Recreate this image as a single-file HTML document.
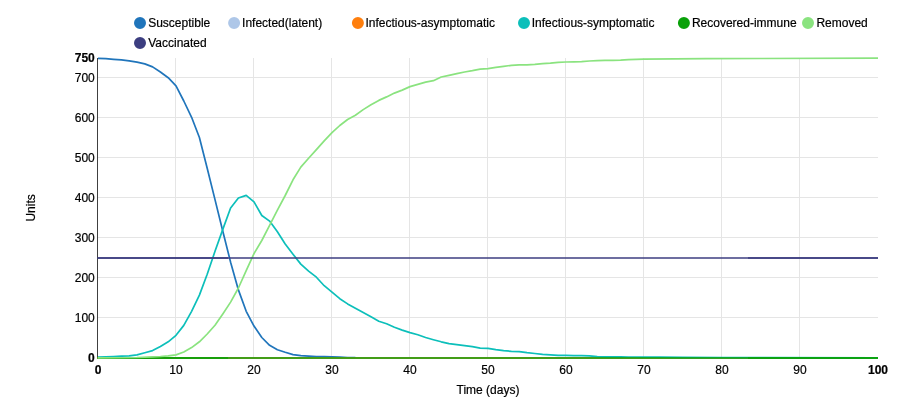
<!DOCTYPE html>
<html><head><meta charset="utf-8"><title>Chart</title>
<style>html,body{margin:0;padding:0;background:#fff;overflow:hidden}svg{display:block}</style></head>
<body>
<svg width="919" height="412" viewBox="0 0 919 412">
<rect width="919" height="412" fill="#fff"/>
<g stroke="#e5e5e5" stroke-width="1" shape-rendering="crispEdges">
<line x1="175.5" y1="57.5" x2="175.5" y2="357.5"/>
<line x1="253.5" y1="57.5" x2="253.5" y2="357.5"/>
<line x1="331.5" y1="57.5" x2="331.5" y2="357.5"/>
<line x1="409.5" y1="57.5" x2="409.5" y2="357.5"/>
<line x1="487.5" y1="57.5" x2="487.5" y2="357.5"/>
<line x1="565.5" y1="57.5" x2="565.5" y2="357.5"/>
<line x1="643.5" y1="57.5" x2="643.5" y2="357.5"/>
<line x1="721.5" y1="57.5" x2="721.5" y2="357.5"/>
<line x1="799.5" y1="57.5" x2="799.5" y2="357.5"/>
<line x1="98" y1="77.5" x2="878" y2="77.5"/>
<line x1="98" y1="117.5" x2="878" y2="117.5"/>
<line x1="98" y1="157.5" x2="878" y2="157.5"/>
<line x1="98" y1="197.5" x2="878" y2="197.5"/>
<line x1="98" y1="237.5" x2="878" y2="237.5"/>
<line x1="98" y1="277.5" x2="878" y2="277.5"/>
<line x1="98" y1="317.5" x2="878" y2="317.5"/>
</g>
<line x1="97.5" y1="58" x2="97.5" y2="358" stroke="#000" stroke-opacity=".75" stroke-width="1" shape-rendering="crispEdges"/>
<g fill="none" stroke-width="1.5" stroke-linejoin="round">
<path d="M98.0,58.3 L105.8,58.7 L113.6,59.3 L121.4,59.9 L129.2,60.8 L137.0,62.2 L144.8,63.9 L152.6,66.9 L160.4,72.0 L168.2,77.7 L176.0,85.8 L183.8,101.0 L191.6,117.3 L199.4,137.5 L207.2,168.3 L215.0,199.6 L222.8,231.2 L230.6,262.2 L238.4,289.9 L246.2,311.3 L254.0,326.1 L261.8,337.5 L269.6,345.3 L277.4,349.7 L285.2,352.3 L293.0,354.6 L300.8,355.6 L308.6,356.1 L316.4,356.5 L324.2,356.7 L332.0,356.9 L339.8,357.2 L347.6,357.5 L355.4,357.7" stroke="#2075bb" stroke-width="1.7"/>
<path d="M97.5,358 L878,358" stroke="#aec7e8"/>
<path d="M97.5,358 L228,358 M748,358 L878,358" stroke="#aec7e8"/>
<path d="M97.5,358 L878,358" stroke="#ff7f0e"/>
<path d="M97.5,358 L228,358 M748,358 L878,358" stroke="#ff7f0e"/>
<path d="M98.0,357.2 L105.8,356.9 L113.6,356.5 L121.4,356.2 L129.2,355.8 L137.0,354.9 L144.8,352.7 L152.6,350.6 L160.4,346.5 L168.2,341.8 L176.0,335.3 L183.8,325.4 L191.6,311.3 L199.4,295.1 L207.2,274.3 L215.0,251.3 L222.8,229.4 L230.6,208.0 L238.4,198.0 L246.2,195.4 L254.0,201.8 L261.8,215.5 L269.6,221.1 L277.4,231.8 L285.2,244.0 L293.0,254.2 L300.8,264.1 L308.6,271.1 L316.4,277.2 L324.2,285.7 L332.0,292.1 L339.8,298.7 L347.6,303.9 L355.4,308.3 L363.2,312.5 L371.0,316.8 L378.8,321.2 L386.6,323.8 L394.4,327.3 L402.2,330.1 L410.0,332.6 L417.8,334.7 L425.6,337.5 L433.4,339.7 L441.2,341.8 L449.0,343.7 L456.8,344.6 L464.6,345.7 L472.4,346.7 L480.2,348.1 L488.0,348.3 L495.8,349.7 L503.6,350.7 L511.4,351.3 L519.2,351.6 L527.0,352.7 L534.8,353.5 L542.6,354.4 L550.4,354.8 L558.2,355.3 L566.0,355.4 L573.8,355.6 L581.6,355.7 L589.4,355.8 L597.2,356.6 L605.0,356.8 L612.8,356.9 L620.6,356.9 L628.4,357.0 L636.2,357.0 L644.0,357.1 L659.6,357.2 L683.0,357.3 L722.0,357.5 L761.0,357.7 L878.0,357.8" stroke="#0cbfba" stroke-width="1.7"/>
<path d="M97.5,358 L878,358" stroke="#0aa10a"/>
<path d="M97.5,358 L228,358 M748,358 L878,358" stroke="#0aa10a"/>
<path d="M98.0,357.8 L137.0,357.5 L152.6,356.9 L160.4,356.5 L168.2,355.9 L176.0,354.9 L183.8,352.0 L191.6,347.6 L199.4,341.8 L207.2,334.0 L215.0,325.2 L222.8,313.9 L230.6,302.1 L238.4,288.0 L246.2,270.7 L254.0,253.6 L261.8,240.5 L269.6,225.3 L277.4,210.1 L285.2,195.5 L293.0,179.8 L300.8,167.1 L308.6,158.3 L316.4,149.6 L324.2,140.9 L332.0,132.7 L339.8,125.5 L347.6,119.5 L355.4,115.3 L363.2,109.6 L371.0,104.8 L378.8,100.4 L386.6,96.9 L394.4,93.1 L402.2,90.1 L410.0,86.6 L417.8,84.4 L425.6,82.1 L433.4,80.7 L441.2,77.0 L449.0,75.3 L456.8,73.7 L464.6,72.0 L472.4,70.7 L480.2,69.2 L488.0,68.6 L495.8,67.4 L503.6,66.4 L511.4,65.3 L519.2,64.8 L527.0,64.8 L534.8,64.3 L542.6,63.6 L550.4,63.1 L558.2,62.4 L566.0,62.0 L573.8,61.8 L581.6,61.7 L589.4,61.0 L597.2,60.7 L605.0,60.4 L612.8,60.3 L620.6,60.1 L628.4,59.6 L636.2,59.4 L644.0,59.2 L675.2,58.9 L706.4,58.7 L761.0,58.5 L878.0,58.2" stroke="#8ae37f" stroke-width="1.7"/>
<path d="M97.5,258 L878,258" stroke="#3c3e80"/>
<path d="M97.5,258 L228,258 M748,258 L878,258" stroke="#3c3e80"/>
</g>
<g font-family="Liberation Sans, Arial, sans-serif" font-size="12" fill="#000" stroke="#000" stroke-width="0.2">
<circle cx="140" cy="23" r="5" fill="#2075bb" stroke="#2075bb" stroke-width="2"/>
<text x="148.2" y="27.2">Susceptible</text>
<circle cx="234.1" cy="23" r="5" fill="#aec7e8" stroke="#aec7e8" stroke-width="2"/>
<text x="242.1" y="27.2">Infected(latent)</text>
<circle cx="357.9" cy="23" r="5" fill="#ff7f0e" stroke="#ff7f0e" stroke-width="2"/>
<text x="365.5" y="27.2">Infectious-asymptomatic</text>
<circle cx="524" cy="23" r="5" fill="#0cbfba" stroke="#0cbfba" stroke-width="2"/>
<text x="531.7" y="27.2">Infectious-symptomatic</text>
<circle cx="683.9" cy="23" r="5" fill="#0aa10a" stroke="#0aa10a" stroke-width="2"/>
<text x="691.9" y="27.2">Recovered-immune</text>
<circle cx="808" cy="23" r="5" fill="#8ae37f" stroke="#8ae37f" stroke-width="2"/>
<text x="816.4" y="27.2">Removed</text>
<circle cx="140" cy="43" r="5" fill="#3c3e80" stroke="#3c3e80" stroke-width="2"/>
<text x="148.2" y="47.2">Vaccinated</text>
<text x="94.8" y="81.7" text-anchor="end">700</text>
<text x="94.8" y="121.7" text-anchor="end">600</text>
<text x="94.8" y="161.7" text-anchor="end">500</text>
<text x="94.8" y="201.7" text-anchor="end">400</text>
<text x="94.8" y="241.7" text-anchor="end">300</text>
<text x="94.8" y="281.7" text-anchor="end">200</text>
<text x="94.8" y="321.7" text-anchor="end">100</text>
<text x="94.8" y="61.7" text-anchor="end" font-weight="bold">750</text>
<text x="94.8" y="361.7" text-anchor="end" font-weight="bold">0</text>
<text x="176.0" y="374" text-anchor="middle">10</text>
<text x="254.0" y="374" text-anchor="middle">20</text>
<text x="332.0" y="374" text-anchor="middle">30</text>
<text x="410.0" y="374" text-anchor="middle">40</text>
<text x="488.0" y="374" text-anchor="middle">50</text>
<text x="566.0" y="374" text-anchor="middle">60</text>
<text x="644.0" y="374" text-anchor="middle">70</text>
<text x="722.0" y="374" text-anchor="middle">80</text>
<text x="800.0" y="374" text-anchor="middle">90</text>
<text x="98" y="374" text-anchor="middle" font-weight="bold">0</text>
<text x="878" y="374" text-anchor="middle" font-weight="bold">100</text>
<text x="488" y="394" text-anchor="middle">Time (days)</text>
<text transform="translate(35.3,207.9) rotate(-90)" text-anchor="middle">Units</text>
</g>
</svg>
</body></html>
